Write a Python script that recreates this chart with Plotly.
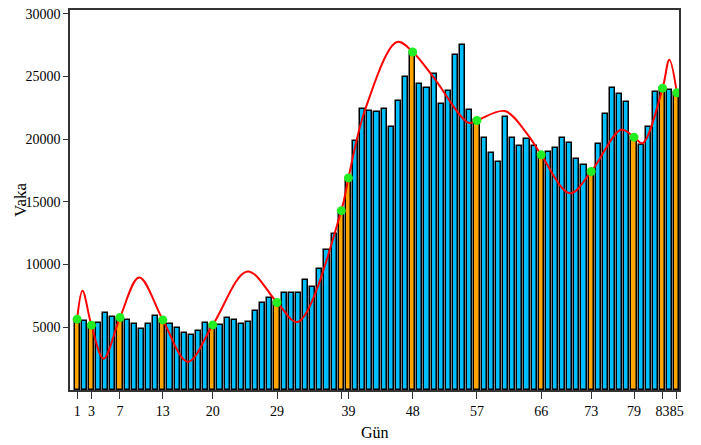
import plotly.graph_objects as go

# Daily case counts (Vaka) for days 1..85
days = list(range(1, 86))
cases = [
    5650, 5510, 5170, 5330, 6180, 5830, 5780, 5620, 5300, 4900,
    5300, 5890, 5590, 5300, 4920, 4550, 4420, 4690, 5330, 5190,
    5220, 5730, 5570, 5300, 5430, 6310, 6900, 7330, 6980, 7720,
    7720, 7720, 8790, 8180, 9610, 11130, 12440, 14300, 16910, 19820,
    22370, 22240, 22160, 22370, 20960, 23010, 24950, 26950, 24430, 24070,
    25220, 22830, 23830, 26740, 27490, 22350, 21490, 20080, 18910, 18220,
    21790, 20080, 19420, 20030, 19440, 18750, 18960, 19310, 20080, 19710,
    18430, 17980, 17420, 19630, 21970, 24050, 23570, 22960, 20160, 19500,
    21010, 23730, 24070, 23940, 23700,
]

# Highlighted (knot) days, marked orange with green dots
knot_days = [1, 3, 7, 13, 20, 29, 38, 39, 48, 57, 66, 73, 79, 83, 85]
knot_values = [cases[d - 1] for d in knot_days]

# Red curve: points (knots plus the curve's turning points)
curve_days = [1, 1.75, 3, 4.7, 7, 9.7, 13, 16.5, 20, 24.85, 29, 31.9, 38, 39,
              41.3, 45.8, 48, 50.9, 55.8, 57, 60.9, 64, 66, 70.0, 73, 77.2,
              79, 80.2, 83, 83.95, 85]
curve_values = [5650, 7910, 5170, 2500, 5780, 8970, 5590, 2260, 5190, 9450,
                6980, 5430, 14300, 16910, 22290, 27750, 26950, 24950, 21310,
                21490, 22240, 20450, 18750, 15690, 17420, 20750, 20160, 19680,
                24070, 26340, 23700]

# Axis ticks
tick_vals = [1, 3, 7, 13, 20, 29, 38, 39, 48, 57, 66, 73, 79, 83, 85]
tick_text = ["1", "3", "7", "13", "20", "29", "", "39", "48", "57", "66", "73", "79", "83", "85"]
y_tick_vals = [5000, 10000, 15000, 20000, 25000, 30000]
y_tick_text = ["5000", "10000", "15000", "20000", "25000", "30000"]

BLUE = "#00BFFF"
ORANGE = "#FFA500"

bar_colors = [ORANGE if d in knot_days else BLUE for d in days]

fig = go.Figure()
fig.add_trace(go.Bar(
    x=days, y=cases, width=0.72,
    marker=dict(color=bar_colors, line=dict(color="black", width=1.5)),
    showlegend=False, hoverinfo="x+y",
))
fig.add_trace(go.Scatter(
    x=curve_days, y=curve_values, mode="lines",
    line=dict(color="#FF0000", width=2, shape="spline", smoothing=1.0),
    showlegend=False, hoverinfo="skip",
))
fig.add_trace(go.Scatter(
    x=knot_days, y=knot_values, mode="markers",
    marker=dict(color="#22EE22", size=9), showlegend=False,
))

font = dict(family="Liberation Serif, Times New Roman, serif", color="black")
# the page body adds an 8px offset, so the figure is sized to fit inside it
fig.update_layout(
    width=693, height=437,
    margin=dict(l=62, r=22, t=2, b=55),
    plot_bgcolor="white", paper_bgcolor="white",
    font=dict(**font, size=14),
    bargap=0,
    annotations=[
        dict(text="Gün", xref="paper", yref="paper", x=0.5, y=0,
             xanchor="center", yanchor="middle", yshift=-42, showarrow=False,
             font=dict(size=16)),
        dict(text="Vaka", xref="paper", yref="paper", x=0, y=0.5,
             xanchor="center", yanchor="middle", xshift=-50, showarrow=False,
             textangle=-90, font=dict(size=17)),
    ],
)
fig.update_xaxes(
    range=[0, 85.3], tickmode="array", tickvals=tick_vals, ticktext=tick_text,
    tickangle=0, ticks="outside", ticklen=7, tickcolor="#333", tickwidth=1,
    showline=True, linecolor="#333", linewidth=1.5, mirror=True,
    showgrid=False, zeroline=False, automargin=False,
    tickfont=dict(size=14),
)
fig.update_yaxes(
    range=[0, 30300], tickmode="array", tickvals=y_tick_vals, ticktext=y_tick_text,
    ticks="outside", ticklen=5, tickcolor="#333", tickwidth=1,
    showline=True, linecolor="#333", linewidth=1.5, mirror=True,
    showgrid=False, zeroline=False, automargin=False,
    ticklabeloverflow="allow",
    tickfont=dict(size=14),
)

fig.write_html("out.html")
